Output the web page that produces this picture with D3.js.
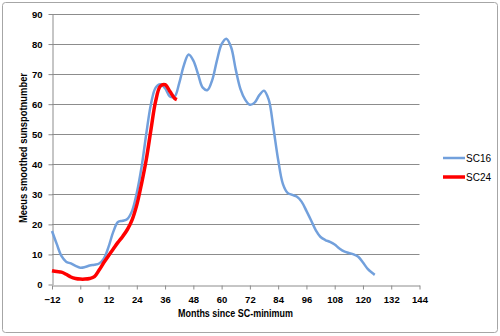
<!DOCTYPE html>
<html>
<head>
<meta charset="utf-8">
<script src="https://cdn.jsdelivr.net/npm/d3@7"></script>
<style>
  html, body { margin: 0; padding: 0; background: #fff; }
  svg { display: block; }
</style>
</head>
<body>
<svg id="chart" width="500" height="336"></svg>
<script>
// Months since solar-cycle minimum
const sc16Months = [-12,-10,-8,-6,-4,-2,0,2,4,6,8,10,12,14,16,18,20,22,24,26,28,30,32,34,36,38,40,42,44,46,48,50,52,54,56,58,60,62,64,66,68,70,72,74,76,78,80,82,84,86,88,90,92,94,96,98,100,102,104,106,108,110,112,114,116,118,120,122,124,125];
// Meeus smoothed sunspot number, cycle 16
const sc16Values = [17.8,13.5,9.5,7.6,7.0,6.2,5.6,5.8,6.3,6.6,7.0,8.6,12.5,17.5,20.8,21.2,21.8,24.5,30.5,39,50,60,65.5,66.6,65.3,62.6,62.5,67,73,76.5,74.5,70,65.5,64.7,68,74.5,80,81.8,79,71.5,65,61.5,59.8,60.5,63,64.5,61.5,52,41.5,33.5,30.5,29.8,29.2,27.5,24.5,21.3,18,15.8,14.8,14.2,13.3,12,11,10.5,10,9.2,7.3,5.2,3.8,3.2];

const sc24Months = [-12,-10,-8,-6,-4,-2,0,2,4,6,8,10,12,14,16,18,20,22,24,26,28,30,32,34,36,38,40,41];
// Meeus smoothed sunspot number, cycle 24
const sc24Values = [4.6,4.3,4.1,3.4,2.5,2.0,1.8,1.8,2.0,2.6,4.8,7.3,9.6,11.8,14,16,18.3,21.5,26.5,33.5,41.5,51.5,61,66,66.5,64.3,62,61.5];

const xTicks = [-12,0,12,24,36,48,60,72,84,96,108,120,132,144];
const yTicks = [0,10,20,30,40,50,60,70,80,90];
const seriesNames = ["SC16", "SC24"];

const svg = d3.select("#chart");
const plot = { left: 52, right: 419.5, top: 14, bottom: 284.5 };

// outer chart frame
svg.append("rect")
  .attr("x", 2.5).attr("y", 2.5)
  .attr("width", 495).attr("height", 330)
  .attr("rx", 3)
  .attr("fill", "#fff")
  .attr("stroke", "#a6a6a6")
  .attr("stroke-width", 1);

const x = d3.scaleLinear().domain([-12, 144]).range([plot.left, plot.right]);
const y = d3.scaleLinear().domain([0, 90]).range([plot.bottom, plot.top]);

const font = "'Liberation Sans', Arial, sans-serif";

// horizontal gridlines
svg.append("g")
  .selectAll("line")
  .data(yTicks.filter(d => d > 0))
  .join("line")
  .attr("x1", plot.left).attr("x2", plot.right)
  .attr("y1", d => Math.round(y(d)) + 0.5).attr("y2", d => Math.round(y(d)) + 0.5)
  .attr("stroke", "#8c8c8c")
  .attr("stroke-width", 1);

// y axis
const yAxis = svg.append("g")
  .attr("transform", `translate(${plot.left + 0.5},0)`)
  .call(d3.axisLeft(y).tickValues(yTicks).tickSize(4).tickPadding(6).tickSizeOuter(0));
yAxis.select(".domain").attr("stroke", "#8c8c8c");
yAxis.selectAll(".tick line").attr("stroke", "#8c8c8c");
yAxis.selectAll(".tick text")
  .attr("font-family", font).attr("font-size", 9.5).attr("font-weight", "bold")
  .attr("fill", "#000");

// x axis
const xAxis = svg.append("g")
  .attr("transform", `translate(0,${Math.round(plot.bottom) + 0.5})`)
  .call(d3.axisBottom(x).tickValues(xTicks).tickSize(4).tickPadding(7).tickSizeOuter(0));
xAxis.select(".domain").attr("stroke", "#8c8c8c");
xAxis.selectAll(".tick line").attr("stroke", "#8c8c8c");
xAxis.selectAll(".tick text")
  .attr("font-family", font).attr("font-size", 9.5).attr("font-weight", "bold")
  .attr("fill", "#000");

// axis titles
svg.append("text")
  .attr("x", 235.5).attr("y", 317)
  .attr("text-anchor", "middle")
  .attr("font-family", font).attr("font-size", 10).attr("font-weight", "bold")
  .attr("textLength", 115).attr("lengthAdjust", "spacingAndGlyphs")
  .text("Months since SC-minimum");

svg.append("text")
  .attr("transform", `translate(27,148) rotate(-90)`)
  .attr("text-anchor", "middle")
  .attr("font-family", font).attr("font-size", 10).attr("font-weight", "bold")
  .attr("textLength", 150).attr("lengthAdjust", "spacingAndGlyphs")
  .text("Meeus smoothed sunspotnumber");

// series lines
const line = d3.line()
  .x(d => x(d[0]))
  .y(d => y(d[1]))
  .curve(d3.curveCatmullRom.alpha(0.5));

const sc16 = sc16Months.map((m, i) => [m, sc16Values[i]]);
const sc24 = sc24Months.map((m, i) => [m, sc24Values[i]]);
const colors = ["#72a0dc", "#ff0000"];
const widths = [2.5, 3.5];

svg.append("path")
  .datum(sc16)
  .attr("d", line)
  .attr("fill", "none")
  .attr("stroke", colors[0])
  .attr("stroke-width", widths[0])
  .attr("stroke-linejoin", "round");

svg.append("path")
  .datum(sc24)
  .attr("d", line)
  .attr("fill", "none")
  .attr("stroke", colors[1])
  .attr("stroke-width", widths[1])
  .attr("stroke-linejoin", "round");

// legend
const legend = svg.append("g");
seriesNames.forEach((name, i) => {
  const ly = 158 + i * 19;
  legend.append("line")
    .attr("x1", 443).attr("x2", 465)
    .attr("y1", ly).attr("y2", ly)
    .attr("stroke", colors[i])
    .attr("stroke-width", widths[i]);
  legend.append("text")
    .attr("x", 466).attr("y", ly + 3.5)
    .attr("font-family", font).attr("font-size", 10)
    .text(name);
});
</script>
</body>
</html>
